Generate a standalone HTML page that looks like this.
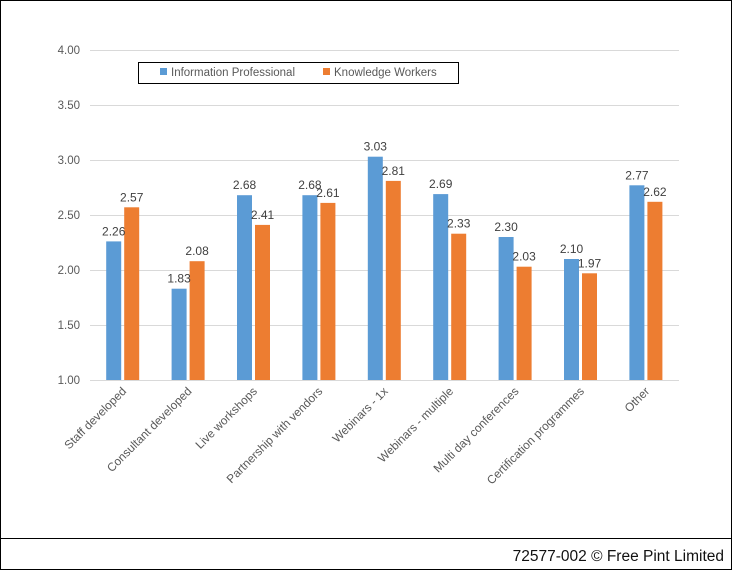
<!DOCTYPE html>
<html><head><style>
body{margin:0;background:#fff}
</style></head><body>
<svg width="732" height="570" xmlns="http://www.w3.org/2000/svg" style="display:block;font-family:'Liberation Sans',sans-serif">
<rect x="0.5" y="0.5" width="731" height="569" fill="#fff" stroke="#000"/>
<line x1="0" y1="538.5" x2="732" y2="538.5" stroke="#000"/>
<text x="724" y="561" text-anchor="end" font-size="15.5" fill="#111">72577-002 © Free Pint Limited</text>
<g stroke="#d9d9d9" stroke-width="1">
<line x1="90" x2="679" y1="50.5" y2="50.5"/>
<line x1="90" x2="679" y1="105.5" y2="105.5"/>
<line x1="90" x2="679" y1="160.5" y2="160.5"/>
<line x1="90" x2="679" y1="215.5" y2="215.5"/>
<line x1="90" x2="679" y1="270.5" y2="270.5"/>
<line x1="90" x2="679" y1="325.5" y2="325.5"/>
<line x1="90" x2="679" y1="380.5" y2="380.5"/>
</g>
<g font-size="11.5" fill="#595959" text-anchor="end">
<text x="80" y="54">4.00</text><text x="80" y="109">3.50</text><text x="80" y="164">3.00</text>
<text x="80" y="219">2.50</text><text x="80" y="274">2.00</text><text x="80" y="329">1.50</text><text x="80" y="384">1.00</text>
</g>
<rect x="138.5" y="62.5" width="320" height="21" fill="#fff" stroke="#000"/>
<rect x="160" y="68" width="7" height="7" fill="#5b9bd5"/>
<text x="171" y="76" font-size="11.5" fill="#595959">Information Professional</text>
<rect x="323" y="68" width="7" height="7" fill="#ed7d31"/>
<text x="334" y="76" font-size="11.5" fill="#595959">Knowledge Workers</text>
<g fill="#5b9bd5">
<rect x="106.2" y="241.4" width="15" height="138.6"/>
<rect x="171.6" y="288.7" width="15" height="91.3"/>
<rect x="237" y="195.2" width="15" height="184.8"/>
<rect x="302.4" y="195.2" width="15" height="184.8"/>
<rect x="367.8" y="156.7" width="15" height="223.3"/>
<rect x="433.2" y="194.1" width="15" height="185.9"/>
<rect x="498.6" y="237" width="15" height="143"/>
<rect x="564" y="259" width="15" height="121"/>
<rect x="629.4" y="185.3" width="15" height="194.7"/>
</g>
<g fill="#ed7d31">
<rect x="124.2" y="207.3" width="15" height="172.7"/>
<rect x="189.6" y="261.2" width="15" height="118.8"/>
<rect x="255" y="224.9" width="15" height="155.1"/>
<rect x="320.4" y="202.9" width="15" height="177.1"/>
<rect x="385.8" y="180.9" width="15" height="199.1"/>
<rect x="451.2" y="233.7" width="15" height="146.3"/>
<rect x="516.6" y="266.7" width="15" height="113.3"/>
<rect x="582" y="273.3" width="15" height="106.7"/>
<rect x="647.4" y="201.8" width="15" height="178.2"/>
</g>
<g font-size="12" fill="#404040" text-anchor="middle">
<text x="113.7" y="235.4">2.26</text><text x="131.7" y="201.3">2.57</text>
<text x="179.1" y="282.7">1.83</text><text x="197.1" y="255.2">2.08</text>
<text x="244.5" y="189.2">2.68</text><text x="262.5" y="218.9">2.41</text>
<text x="309.9" y="189.2">2.68</text><text x="327.9" y="196.9">2.61</text>
<text x="375.3" y="150.7">3.03</text><text x="393.3" y="174.9">2.81</text>
<text x="440.7" y="188.1">2.69</text><text x="458.7" y="227.7">2.33</text>
<text x="506.1" y="231">2.30</text><text x="524.1" y="260.7">2.03</text>
<text x="571.5" y="253">2.10</text><text x="589.5" y="267.3">1.97</text>
<text x="636.9" y="179.3">2.77</text><text x="654.9" y="195.8">2.62</text>
</g>
<g font-size="11.8" fill="#595959" text-anchor="end">
<text transform="translate(127,392) rotate(-45)">Staff developed</text>
<text transform="translate(192.4,392) rotate(-45)">Consultant developed</text>
<text transform="translate(257.8,392) rotate(-45)">Live workshops</text>
<text transform="translate(323.2,392) rotate(-45)">Partnership with vendors</text>
<text transform="translate(388.6,392) rotate(-45)">Webinars - 1x</text>
<text transform="translate(454,392) rotate(-45)">Webinars - multiple</text>
<text transform="translate(519.4,392) rotate(-45)">Multi day conferences</text>
<text transform="translate(584.8,392) rotate(-45)">Certification programmes</text>
<text transform="translate(650.2,392) rotate(-45)">Other</text>
</g>
</svg>
</body></html>
